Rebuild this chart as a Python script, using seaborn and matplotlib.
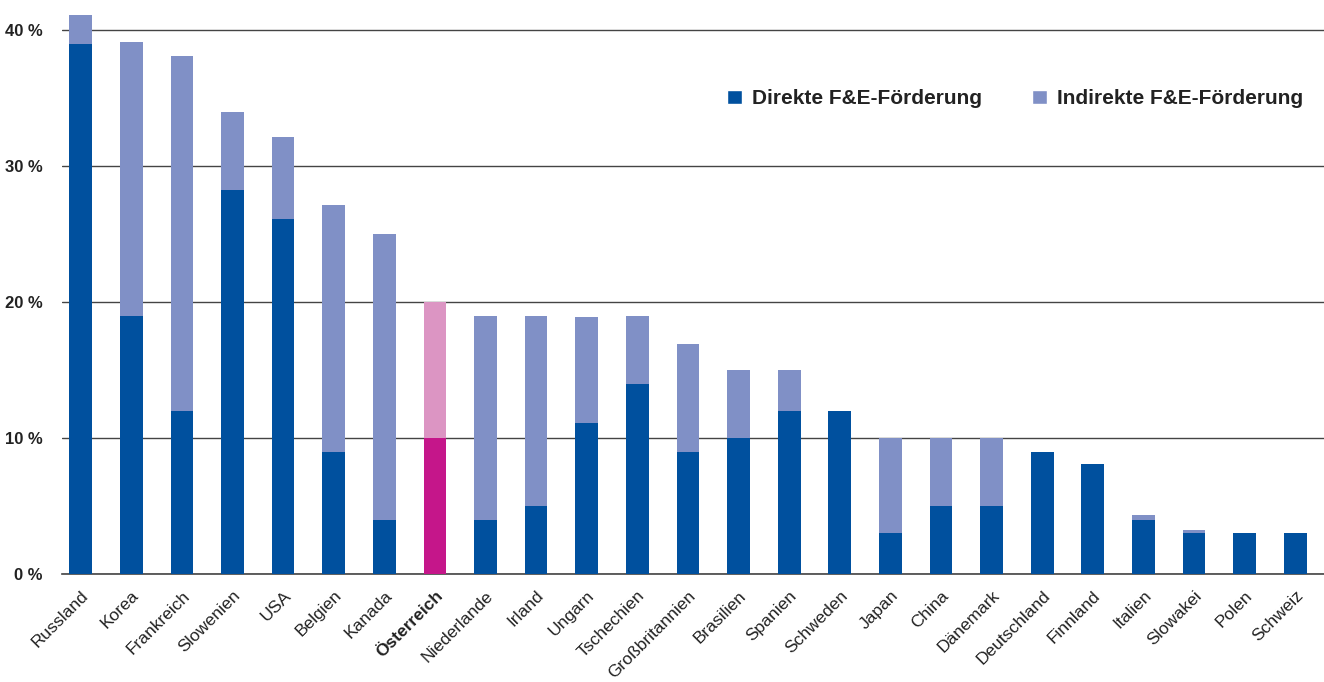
import matplotlib
matplotlib.use("Agg")
import matplotlib.pyplot as plt
from matplotlib.patches import Patch
import seaborn as sns
import pandas as pd

countries = ["Russland", "Korea", "Frankreich", "Slowenien", "USA", "Belgien", "Kanada",
             "Österreich", "Niederlande", "Irland", "Ungarn", "Tschechien", "Großbritannien",
             "Brasilien", "Spanien", "Schweden", "Japan", "China", "Dänemark", "Deutschland",
             "Finnland", "Italien", "Slowakei", "Polen", "Schweiz"]
direkt = [39, 19, 12, 28.2, 26.1, 9, 4, 10, 4, 5, 11.1, 14, 9, 10, 12, 12, 3, 5, 5, 9, 8.1, 4, 3, 3, 3]
indirekt = [2.1, 20.1, 26.1, 5.8, 6, 18.1, 21, 10, 15, 14, 7.8, 5, 7.9, 5, 3, 0, 7, 5, 5, 0, 0, 0.3, 0.2, 0, 0]
yticks = [0, 10, 20, 30, 40]

highlight = "Österreich"
c_direkt, c_indirekt = "#00509E", "#8090C6"
c_direkt_hl, c_indirekt_hl = "#C5168A", "#DC95C3"

df = pd.DataFrame({"Land": countries, "Direkt": direkt, "Indirekt": indirekt})
df["Gesamt"] = df["Direkt"] + df["Indirekt"]

sns.set_theme(style="white")
plt.rcParams["font.family"] = ["Liberation Sans", "DejaVu Sans"]

fig = plt.figure(figsize=(13.24, 6.82), dpi=100)
ax = fig.add_axes([0.0468, 0.1584, 0.9532, 0.8375])

pal_total = {c: (c_indirekt_hl if c == highlight else c_indirekt) for c in countries}
pal_dir = {c: (c_direkt_hl if c == highlight else c_direkt) for c in countries}

sns.barplot(data=df, x="Land", y="Gesamt", hue="Land", palette=pal_total,
            width=0.45, legend=False, ax=ax, saturation=1, zorder=3)
sns.barplot(data=df, x="Land", y="Direkt", hue="Land", palette=pal_dir,
            width=0.45, legend=False, ax=ax, saturation=1, zorder=3)
for p in ax.patches:
    p.set_linewidth(0)

ax.set_xlim(-0.37, 24.57)
ax.set_ylim(0, 42)
ax.set_yticks(yticks)
ax.set_yticklabels([f"{v} %" for v in yticks], fontsize=12, fontweight="bold", color="#222222")
ax.yaxis.grid(True, color="#444444", linewidth=1.0, zorder=0)
ax.set_axisbelow(True)
for s in ["left", "right", "top"]:
    ax.spines[s].set_visible(False)
ax.spines["bottom"].set_color("#444444")
ax.spines["bottom"].set_linewidth(1.2)
ax.tick_params(axis="y", length=0, pad=14)
ax.tick_params(axis="x", length=0, pad=10)
ax.set_xlabel("")
ax.set_ylabel("")

ax.set_xticks(range(len(countries)))
ax.set_xticklabels(countries, rotation=45, ha="right", rotation_mode="anchor",
                   fontsize=12.5, color="#222222")
for lbl in ax.get_xticklabels():
    if lbl.get_text() == highlight:
        lbl.set_fontweight("bold")

handles = [Patch(facecolor=c_direkt, label="Direkte F&E-Förderung"),
           Patch(facecolor=c_indirekt, label="Indirekte F&E-Förderung")]
leg = ax.legend(handles=handles, loc="center right", bbox_to_anchor=(0.992, 0.832), ncol=2,
                frameon=False, handlelength=0.7, handleheight=0.7, columnspacing=2.4,
                handletextpad=0.5, borderpad=0, prop={"size": 15, "weight": "bold"})
for t in leg.get_texts():
    t.set_color("#222222")

fig.savefig("out.png", dpi=100)
